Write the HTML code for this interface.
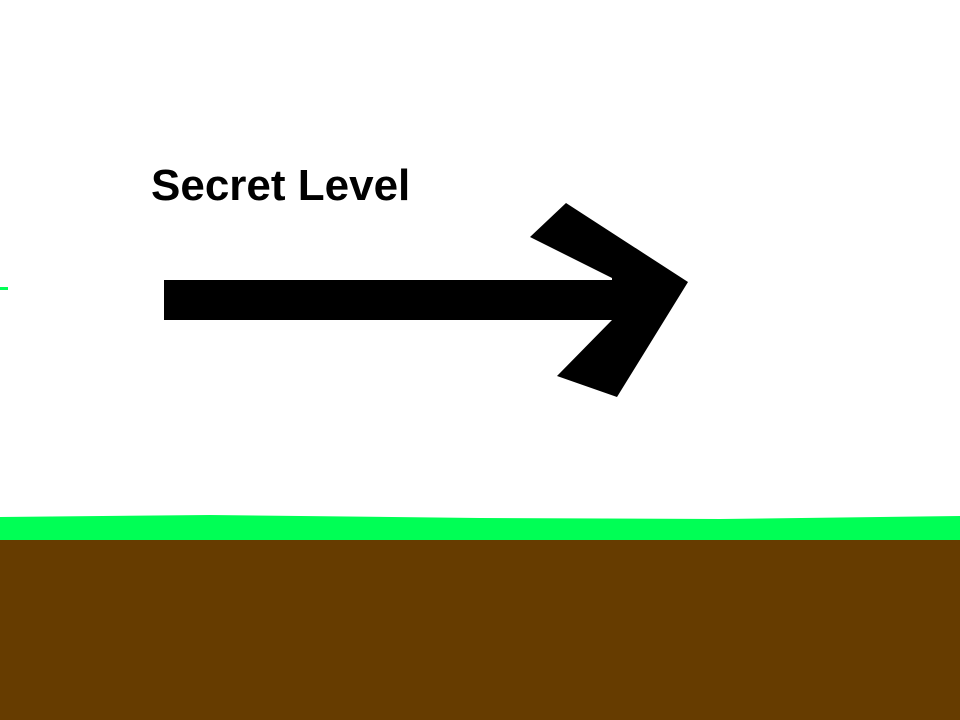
<!DOCTYPE html>
<html><head><meta charset="utf-8"><style>
html,body{margin:0;padding:0;width:960px;height:720px;overflow:hidden;background:#fff}
svg{display:block}
</style></head><body>
<svg width="960" height="720" viewBox="0 0 960 720">
<rect x="0" y="0" width="960" height="720" fill="#ffffff"/>
<rect x="0" y="287" width="8" height="3" fill="#00ff55"/>
<text x="151" y="200" font-family="Liberation Sans, sans-serif" font-weight="bold" font-size="44" fill="#000">Secret Level</text>
<g fill="#000">
<rect x="164" y="280" width="452" height="40"/>
<polygon points="530,237 566,203 688,282 617,397 557,376 612,320 612,278"/>
</g>
<polygon points="0,517 210,515 480,518 720,519 960,516 960,541 0,541" fill="#00ff55"/>
<rect x="0" y="540" width="960" height="180" fill="#663c00"/>
</svg>
</body></html>
